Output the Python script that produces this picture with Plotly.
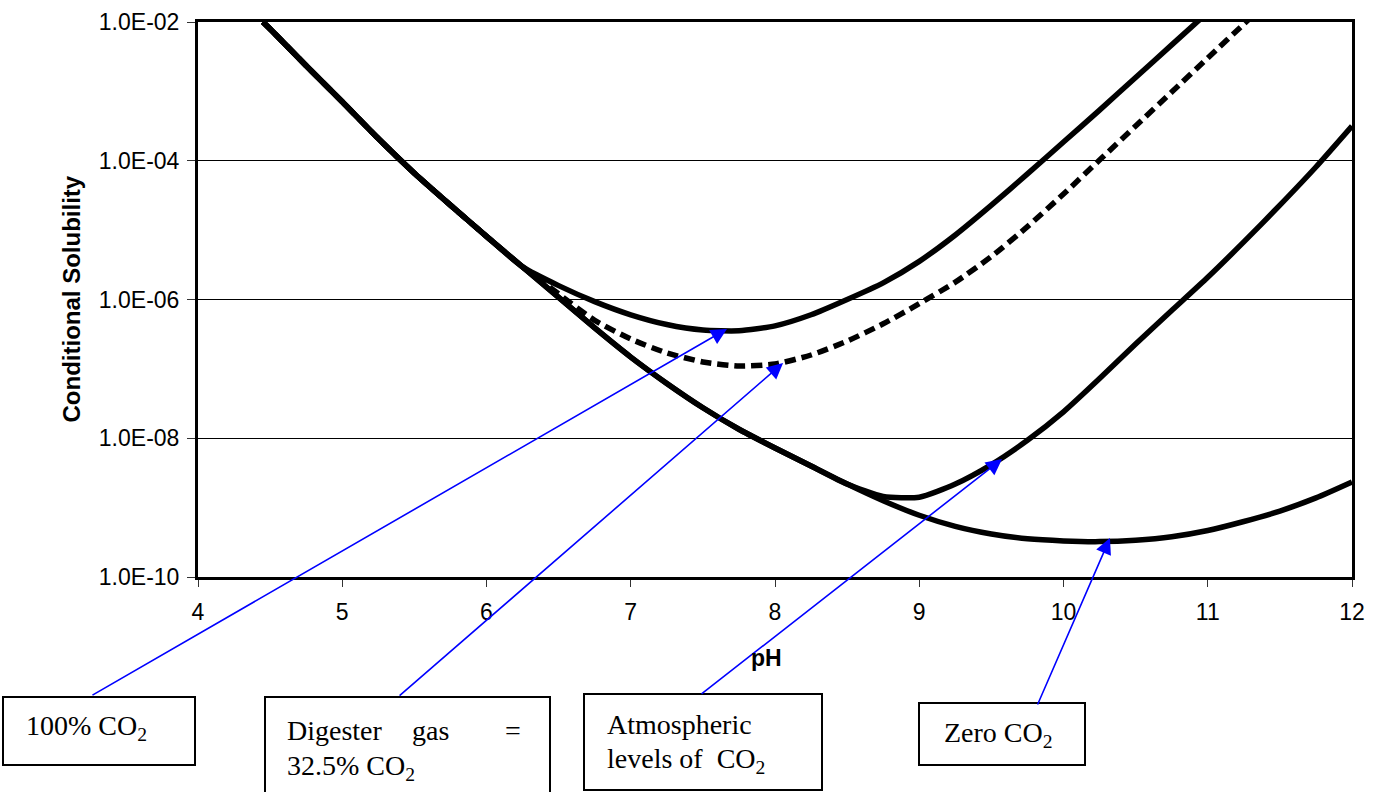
import plotly.graph_objects as go

# ---- data (solubility given as log10 exponents) ----
ph_zero = [4.45, 4.5, 4.75, 5.0, 5.25, 5.5, 5.75, 6.0, 6.25, 6.5, 6.75, 7.0, 7.25, 7.5, 7.75, 8.0, 8.25,
           8.5, 8.75, 9.0, 9.25, 9.5, 9.75, 10.0, 10.25, 10.5, 10.75, 11.0, 11.25, 11.5, 11.75, 12.0]
log_zero = [-2.00, -2.10, -2.63, -3.15, -3.68, -4.18, -4.64, -5.09, -5.53, -5.97, -6.41, -6.83, -7.21, -7.56,
            -7.87, -8.14, -8.40, -8.66, -8.90, -9.11, -9.27, -9.38, -9.45, -9.48, -9.49, -9.47, -9.42, -9.33,
            -9.20, -9.05, -8.86, -8.63]

ph_atm = [4.45, 4.5, 4.75, 5.0, 5.25, 5.5, 5.75, 6.0, 6.25, 6.5, 6.75, 7.0, 7.25, 7.5, 7.75, 8.0, 8.25,
          8.5, 8.75, 9.0, 9.25, 9.5, 9.75, 10.0, 10.25, 10.5, 10.75, 11.0, 11.25, 11.5, 11.75, 12.0]
log_atm = [-2.00, -2.10, -2.63, -3.15, -3.68, -4.18, -4.64, -5.09, -5.53, -5.97, -6.41, -6.83, -7.21, -7.56,
           -7.87, -8.14, -8.40, -8.66, -8.84, -8.85, -8.66, -8.38, -8.03, -7.62, -7.14, -6.64, -6.16, -5.68,
           -5.17, -4.64, -4.09, -3.50]

ph_dig = [4.45, 4.5, 4.75, 5.0, 5.25, 5.5, 5.75, 6.0, 6.25, 6.5, 6.75, 7.0, 7.25, 7.5, 7.75, 8.0, 8.25,
          8.5, 8.75, 9.0, 9.25, 9.5, 9.75, 10.0, 10.25, 10.5, 10.75, 11.0, 11.25, 11.5]
log_dig = [-2.00, -2.10, -2.63, -3.15, -3.68, -4.18, -4.64, -5.09, -5.53, -5.92, -6.30, -6.57, -6.77, -6.90,
           -6.96, -6.93, -6.80, -6.60, -6.35, -6.06, -5.75, -5.38, -4.95, -4.48, -3.99, -3.50, -3.01, -2.52,
           -2.03, -1.54]

ph_100 = [4.45, 4.5, 4.75, 5.0, 5.25, 5.5, 5.75, 6.0, 6.25, 6.5, 6.75, 7.0, 7.25, 7.5, 7.75, 8.0, 8.25,
          8.5, 8.75, 9.0, 9.25, 9.5, 9.75, 10.0, 10.25, 10.5, 10.75, 11.0]
log_100 = [-2.00, -2.10, -2.63, -3.15, -3.68, -4.18, -4.64, -5.09, -5.53, -5.80, -6.03, -6.22, -6.36, -6.44,
           -6.45, -6.38, -6.22, -6.00, -5.76, -5.45, -5.07, -4.64, -4.19, -3.73, -3.27, -2.80, -2.33, -1.86]

y_tickvals = [1e-10, 1e-8, 1e-6, 1e-4, 1e-2]
y_ticktext = ["1.0E-10", "1.0E-08", "1.0E-06", "1.0E-04", "1.0E-02"]
x_tickvals = [4, 5, 6, 7, 8, 9, 10, 11, 12]

# ---- figure ----
W, H = 1377, 792
ML, MR, MT, MB = 198, 25, 22, 215
PW, PH = W - ML - MR, H - MT - MB


def px(xp):
    return (xp - ML) / PW


def py(yp):
    return (H - MB - yp) / PH


def sol(logs):
    return [10.0 ** v for v in logs]


fig = go.Figure()
fig.add_trace(go.Scatter(x=ph_dig, y=sol(log_dig), mode="lines", name="Digester gas",
                         line=dict(color="black", width=5.5, dash="11px,6px", shape="spline", smoothing=0.6)))
for xs, ls, nm in [(ph_zero, log_zero, "Zero CO2"), (ph_atm, log_atm, "Atmospheric"), (ph_100, log_100, "100% CO2")]:
    fig.add_trace(go.Scatter(x=xs, y=sol(ls), mode="lines", name=nm,
                             line=dict(color="black", width=5.5, shape="spline", smoothing=0.6)))

serif = "Liberation Serif, Times New Roman, serif"
sans = "Liberation Sans, Arial, sans-serif"
fs = 28

annotations = []
# arrows: tip in data coords (log axis uses exponent), tail offset in pixels
arrows = [
    (7.667, -6.425, -636, 367),
    (8.056, -6.915, -385, 334),
    (9.574, -8.30, -302, 236),
    (10.322, -9.438, -73, 168),
]
for x, y, ax, ay in arrows:
    annotations.append(dict(x=x, y=y, xref="x", yref="y", ax=ax, ay=ay, axref="pixel", ayref="pixel",
                            text="", showarrow=True, arrowhead=2, arrowsize=2.0, arrowwidth=1.6,
                            arrowcolor="#0000FF", standoff=0))


def txt(xp, yp, t, anchor="left"):
    annotations.append(dict(x=px(xp), y=py(yp), xref="paper", yref="paper", text=t, showarrow=False,
                            xanchor=anchor, yanchor="middle", font=dict(family=serif, size=fs, color="black")))


txt(24, 728, "100% CO<sub>2</sub>")
txt(285, 730, "Digester")
txt(410, 730, "gas")
txt(503, 730, "=")
txt(285, 767, "32.5% CO<sub>2</sub>")
txt(605, 724, "Atmospheric")
txt(605, 760, "levels of  CO<sub>2</sub>")
txt(942, 734, "Zero CO<sub>2</sub>")

annotations.append(dict(x=px(71), y=0.5, xref="paper", yref="paper", text="<b>Conditional Solubility</b>",
                        textangle=-90, showarrow=False, xanchor="center", yanchor="middle",
                        font=dict(family=sans, size=24, color="black")))
annotations.append(dict(x=px(766), y=py(658), xref="paper", yref="paper", text="<b>pH</b>",
                        showarrow=False, xanchor="center", yanchor="middle",
                        font=dict(family=sans, size=23, color="black")))

shapes = []
for x0, y0, x1, y1 in [(3, 697, 195, 765), (265, 697, 550, 800), (584, 694, 822, 790), (919, 703, 1085, 765)]:
    shapes.append(dict(type="rect", xref="paper", yref="paper", x0=px(x0), x1=px(x1), y0=py(y1), y1=py(y0),
                       line=dict(color="black", width=2), fillcolor="rgba(0,0,0,0)", layer="above"))

fig.update_layout(
    width=W, height=H,
    margin=dict(l=ML, r=MR, t=MT, b=MB, autoexpand=False),
    paper_bgcolor="white", plot_bgcolor="white",
    showlegend=False,
    font=dict(family=sans, size=23, color="black"),
    annotations=annotations,
    shapes=shapes,
    xaxis=dict(range=[4, 12], tickvals=x_tickvals, showgrid=False, zeroline=False,
               showline=True, linecolor="black", linewidth=3, mirror=True,
               ticks="outside", ticklen=7, tickwidth=1, tickcolor="#333", ticklabelstandoff=5),
    yaxis=dict(type="log", range=[-10, -2], tickvals=y_tickvals, ticktext=y_ticktext,
               showgrid=True, gridcolor="black", gridwidth=1, zeroline=False,
               showline=True, linecolor="black", linewidth=3, mirror=True,
               ticks="outside", ticklen=8, tickwidth=1, tickcolor="#333", ticklabelstandoff=3),
)

fig.write_html("out.html", config={"displayModeBar": False},
               post_script="document.body.style.margin='0';document.body.style.overflow='hidden';")
